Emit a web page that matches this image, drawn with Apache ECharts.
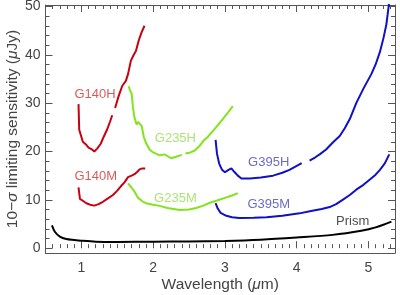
<!DOCTYPE html>
<html>
<head>
    <meta charset="UTF-8">
    <title>NIRSpec sensitivity</title>
    <script src="https://cdn.jsdelivr.net/npm/echarts@6/dist/echarts.min.js"></script>
    <style>
        html, body {margin: 0; padding: 0; background: #fff;}
    </style>
</head>
<body>
<div id="main" style="width: 400px;height:295px;"></div>
<script>
    // wavelength (um) / limiting sensitivity (uJy); null = gap in the curve
    var prismWave = [0.59, 0.63, 0.7, 0.79, 0.9, 1.0, 1.2, 1.5, 2.0, 2.5, 3.0, 3.5, 4.0, 4.5, 4.9, 5.1, 5.32];
    var prismFlux = [4.7, 3.4, 2.4, 1.9, 1.7, 1.55, 1.35, 1.3, 1.35, 1.4, 1.5, 1.75, 2.2, 2.75, 3.6, 4.3, 5.5];

    var g140hWave = [0.96, 0.97, 0.99, 1.02, 1.06, 1.1, 1.14, 1.18, 1.22, 1.27, 1.31, 1.36, 1.4, 1.43, 1.45,
        1.47, 1.52, 1.57, 1.62, 1.65, 1.69, 1.73, 1.76, 1.8, 1.84, 1.88];
    var g140hFlux = [29.8, 24.5, 23.5, 22, 21.5, 20.8, 20.5, 20, 20.6, 21.6, 23, 24.6, 26.2, 27.5, null,
        29, 31.5, 33.6, 34.6, 36, 38.8, 40, 40.8, 43, 44.7, 46];

    var g140mWave = [0.96, 0.98, 1.02, 1.07, 1.12, 1.18, 1.24, 1.3, 1.37, 1.44, 1.5, 1.55, 1.6, 1.65, 1.7, 1.74, 1.78, 1.81, 1.85, 1.89];
    var g140mFlux = [12.6, 10.2, 9.8, 9.3, 9.0, 8.8, 9.1, 9.6, 10.3, 11, 11.9, 12.8, 13.6, 14.7, 15, 15.3, 15.8, 16.3, 16.5, 16.5];

    var g235hWave = [1.66, 1.68, 1.7, 1.72, 1.74, 1.77, 1.79, 1.81, 1.84, 1.87, 1.9, 1.95, 2.0, 2.09, 2.16, 2.25, 2.32, 2.4, 2.42,
        2.45, 2.52, 2.58, 2.65, 2.7, 2.76, 2.83, 2.9, 2.97, 3.05, 3.11];
    var g235hFlux = [33.5, 32.5, 32, 29, 27, 25.6, 26.1, 26.3, 25.3, 23, 21.8, 20.4, 19.8, 19.2, 19.4, 18.6, 18.9, 19.3, null,
        19.6, 19.8, 20.2, 21.2, 22.2, 23, 24.2, 25.4, 26.7, 28.2, 29.4];

    var g235mWave = [1.65, 1.7, 1.74, 1.79, 1.85, 1.9, 2.0, 2.09, 2.2, 2.37, 2.5, 2.6, 2.7, 2.79, 2.9, 3.0, 3.1, 3.18];
    var g235mFlux = [13.4, 12.5, 11.7, 10.4, 9.7, 9.3, 9.0, 8.75, 8.3, 7.9, 8.0, 8.3, 8.8, 9.4, 9.9, 10.4, 10.9, 11.4];

    var g395hWave = [2.87, 2.89, 2.92, 2.96, 3.0, 3.05, 3.09, 3.13, 3.18, 3.23, 3.35, 3.5, 3.67, 3.8, 3.9, 4.0, 4.07, 4.12,
        4.18, 4.26, 4.33, 4.41, 4.5, 4.6, 4.67, 4.74, 4.83, 4.93, 5.04, 5.1, 5.16, 5.21, 5.25, 5.29];
    var g395hFlux = [22.4, 19.5, 17.5, 16.2, 15.7, 16.2, 16.5, 15.8, 15, 14.4, 14.4, 14.6, 15, 15.6, 16.2, 17, 17.6, null,
        18.1, 18.8, 19.5, 20.4, 21.8, 23.2, 24.8, 26.7, 30, 33, 36, 38, 40.6, 43.5, 46.3, 51];

    var g395mWave = [2.87, 2.9, 2.94, 3.02, 3.1, 3.2, 3.4, 3.58, 3.8, 4.04, 4.2, 4.35, 4.46, 4.55, 4.64, 4.74, 4.83, 4.93, 5.02, 5.1, 5.16, 5.23, 5.29];
    var g395mFlux = [9.3, 8.2, 7.3, 6.7, 6.4, 6.25, 6.3, 6.4, 6.7, 7.2, 7.7, 8.1, 8.5, 9.1, 10, 11, 12.1, 13.1, 14.2, 15.2, 16.2, 17.6, 19.4];

    // curve labels
    var labelNames = ['G140H', 'G140M', 'G235H', 'G235M', 'G395H', 'G395M', 'Prism'];
    var labelWave = [1.19, 1.2, 2.31, 2.31, 3.61, 3.61, 4.78];
    var labelFlux = [31.9, 14.8, 22.8, 10.2, 17.7, 9.0, 5.6];
    var labelColors = ['#cc3333', '#cc3333', '#95dd50', '#95dd50', '#4646bb', '#4646bb', '#222'];

    // axis ranges (frame) and tick ranges
    var xMin = 0.5, xMax = 5.37, yMin = -1, yMax = 50.3;
    var xMajorMin = 1, xMajorMax = 5;      // labelled ticks every 1
    var xMinorMin = 0.5, xMinorMax = 5.3;  // small ticks every 0.1
    var yTickMin = 0, yTickMax = 50;       // labelled ticks every 10, minor every 2

    // frame in pixels
    var W = 400, H = 295;
    var frameL = 45.5, frameR = 5, frameT = 5, frameB = 42;
    var pxX = (W - frameL - frameR) / (xMax - xMin);
    var pxY = (H - frameT - frameB) / (yMax - yMin);
    function gx(v) { return frameL + (v - xMin) * pxX; }
    function gy(v) { return frameT + (yMax - v) * pxY; }

    var axisColor = '#555';
    var textColor = '#444';
    var font = 'Liberation Sans';

    function pairs(w, f) {
        return w.map(function (x, k) { return [x, f[k]]; });
    }

    function curve(name, w, f, color, smooth) {
        return {
            name: name, type: 'line', data: pairs(w, f),
            xAxisIndex: 0, yAxisIndex: 0,
            showSymbol: false, smooth: smooth || false, connectNulls: false,
            lineStyle: {color: color, width: 2}, itemStyle: {color: color},
            z: 3
        };
    }

    var hidden = {show: false};
    var line = {show: true, onZero: false, lineStyle: {color: axisColor, width: 1}};

    function tickAxis(grid, pos, min, max, interval, len, extra) {
        var a = {
            type: 'value', gridIndex: grid, position: pos, min: min, max: max, interval: interval,
            axisLine: hidden,
            axisTick: {show: true, inside: true, length: len, lineStyle: {color: axisColor}},
            axisLabel: {show: false}, splitLine: hidden
        };
        return Object.assign(a, extra || {});
    }

    function blankAxis(grid, min, max) {
        return {type: 'value', gridIndex: grid, min: min, max: max,
            axisLine: hidden, axisTick: hidden, axisLabel: hidden, splitLine: hidden};
    }

    function makeGrid(l, r, t, b) {
        return {left: l, right: r, top: t, bottom: b, containLabel: false, outerBoundsMode: 'none'};
    }

    var titleStyle = {color: textColor, fontSize: 15.5, fontFamily: font,
        rich: {i: {fontStyle: 'italic', fontSize: 15.5, fontFamily: font, color: textColor}}};

    var myChart = echarts.init(document.getElementById('main'), null, {renderer: 'canvas'});

    var option = {
        backgroundColor: '#fff',
        animation: false,
        grid: [
            // 0: data + frame
            makeGrid(frameL, frameR, frameT, frameB),
            // 1: y ticks 0..50
            makeGrid(frameL, frameR, gy(yTickMax), H - gy(yTickMin)),
            // 2: x major ticks 1..5
            makeGrid(gx(xMajorMin), W - gx(xMajorMax), frameT, frameB),
            // 3: x minor ticks 0.5..5.3
            makeGrid(gx(xMinorMin), W - gx(xMinorMax), frameT, frameB)
        ],
        xAxis: [
            {type: 'value', gridIndex: 0, position: 'bottom', min: xMin, max: xMax,
                axisLine: line, axisTick: hidden, axisLabel: hidden, splitLine: hidden,
                name: 'Wavelength ({i|μ}m)', nameLocation: 'middle', nameGap: 24,
                nameTextStyle: titleStyle},
            {type: 'value', gridIndex: 0, position: 'top', min: xMin, max: xMax,
                axisLine: line, axisTick: hidden, axisLabel: hidden, splitLine: hidden},
            blankAxis(1, xMin, xMax),
            tickAxis(2, 'bottom', xMajorMin, xMajorMax, 1, 7, {
                axisLabel: {show: true, color: textColor, fontSize: 14, fontFamily: font, margin: 8}
            }),
            tickAxis(2, 'top', xMajorMin, xMajorMax, 1, 7),
            tickAxis(3, 'bottom', xMinorMin, xMinorMax, 0.1, 4),
            tickAxis(3, 'top', xMinorMin, xMinorMax, 0.1, 4)
        ],
        yAxis: [
            {type: 'value', gridIndex: 0, position: 'left', min: yMin, max: yMax,
                axisLine: line, axisTick: hidden, axisLabel: hidden, splitLine: hidden,
                name: '10−{i|σ} limiting sensitivity ({i|μ}Jy)', nameLocation: 'middle', nameGap: 25, nameRotate: 90,
                nameTextStyle: titleStyle},
            {type: 'value', gridIndex: 0, position: 'right', min: yMin, max: yMax,
                axisLine: line, axisTick: hidden, axisLabel: hidden, splitLine: hidden},
            tickAxis(1, 'left', yTickMin, yTickMax, 10, 7, {
                minorTick: {show: true, splitNumber: 5, length: 4, lineStyle: {color: axisColor}},
                axisLabel: {show: true, color: textColor, fontSize: 14, fontFamily: font, margin: 5}
            }),
            tickAxis(1, 'right', yTickMin, yTickMax, 10, 7, {
                minorTick: {show: true, splitNumber: 5, length: 4, lineStyle: {color: axisColor}}
            }),
            blankAxis(2, yMin, yMax),
            blankAxis(3, yMin, yMax)
        ],
        series: [
            curve('Prism', prismWave, prismFlux, '#000', 0.3),
            curve('G140H', g140hWave, g140hFlux, '#c80010'),
            curve('G140M', g140mWave, g140mFlux, '#c80010'),
            curve('G235H', g235hWave, g235hFlux, '#84e41c'),
            curve('G235M', g235mWave, g235mFlux, '#84e41c'),
            curve('G395H', g395hWave, g395hFlux, '#1010c4'),
            curve('G395M', g395mWave, g395mFlux, '#1010c4'),
            {
                type: 'scatter', symbolSize: 0, silent: true, z: 4,
                xAxisIndex: 0, yAxisIndex: 0,
                data: labelNames.map(function (n, k) {
                    return {
                        value: [labelWave[k], labelFlux[k]],
                        label: {
                            show: true, position: 'inside', formatter: n,
                            color: labelColors[k], fontSize: 13, fontFamily: font
                        }
                    };
                })
            }
        ]
    };

    myChart.setOption(option);
</script>
</body>
</html>
